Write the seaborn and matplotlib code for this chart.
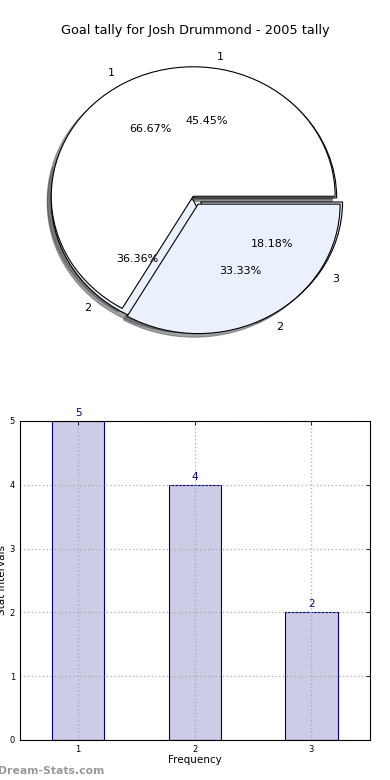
import numpy as np
import pandas as pd
import matplotlib
matplotlib.use("Agg")
import matplotlib.pyplot as plt
import seaborn as sns

# pie data: two pies drawn on the same axes
pie_a_values = [5, 4, 2]
pie_a_labels = ["1", "2", "3"]
pie_b_values = [2, 1]
pie_b_labels = ["1", "2"]

# bar data
bar_x = [1, 2, 3]
bar_y = [5, 4, 2]

title = "Goal tally for Josh Drummond - 2005 tally"

sns.set_style("white")
plt.rcParams['font.family'] = ['DejaVu Sans']
plt.rcParams['text.color'] = 'black'
plt.rcParams['axes.labelcolor'] = 'black'
plt.rcParams['xtick.color'] = 'black'
plt.rcParams['ytick.color'] = 'black'

fig = plt.figure(figsize=(3.9, 7.8), dpi=100)

# --- pie ---
ax1 = fig.add_axes([0.044, 0.538, 0.91, 0.415])
white = "#ffffff"
blue = "#eaf0fc"
ax1.pie(pie_a_values, labels=pie_a_labels, autopct="%.2f%%",
        colors=[white, blue, blue], explode=[0.005, 0.015, 0.05],
        shadow=True, startangle=0,
        wedgeprops=dict(edgecolor="black", linewidth=0.8),
        textprops=dict(fontsize=8))
ax1.pie(pie_b_values, labels=pie_b_labels, autopct="%.2f%%",
        colors=[white, blue], explode=[0.02, 0.05],
        shadow=True, startangle=0,
        wedgeprops=dict(edgecolor="black", linewidth=0.8),
        textprops=dict(fontsize=8))
ax1.set_aspect("auto")
ax1.set_xlim(-1.25, 1.25)
ax1.set_ylim(-1.25, 1.25)
fig.text(0.5, 0.961, title, ha="center", va="center", fontsize=9.3)

# --- bars ---
ax2 = fig.add_axes([0.051, 0.0513, 0.897, 0.409])
df = pd.DataFrame({"x": bar_x, "y": bar_y})
sns.barplot(data=df, x="x", y="y", native_scale=True, width=0.45,
            color="#ccccE6", edgecolor="navy", linewidth=0.8,
            saturation=1, ax=ax2)
for xv, yv in zip(bar_x, bar_y):
    ax2.text(xv, yv + 0.05, str(yv), ha="center", va="bottom",
             color="navy", fontsize=7.5)
ax2.set_xlim(0.5, 3.5)
ax2.set_ylim(0, 5)
ax2.set_xticks(bar_x)
ax2.set_yticks(range(0, 6))
ax2.tick_params(axis="both", direction="in", labelsize=6, length=3,
                top=True, right=True, width=0.6)
ax2.grid(True, linestyle=(0, (1, 2)), color="#aaaaaa", linewidth=0.9)
ax2.set_axisbelow(False)
for s in ax2.spines.values():
    s.set_visible(True)
    s.set_color("black")
    s.set_linewidth(0.8)
    s.set_zorder(5)
ax2.set_xlabel("Frequency", fontsize=7.5, labelpad=1)
ax2.set_ylabel("Stat Intervals", fontsize=7.5, labelpad=2)

fig.text(-0.005, 0.012, "Dream-Stats.com", color="#999999", fontsize=7.8,
         fontweight="bold", ha="left", va="center")

fig.savefig("out.png", dpi=100)
